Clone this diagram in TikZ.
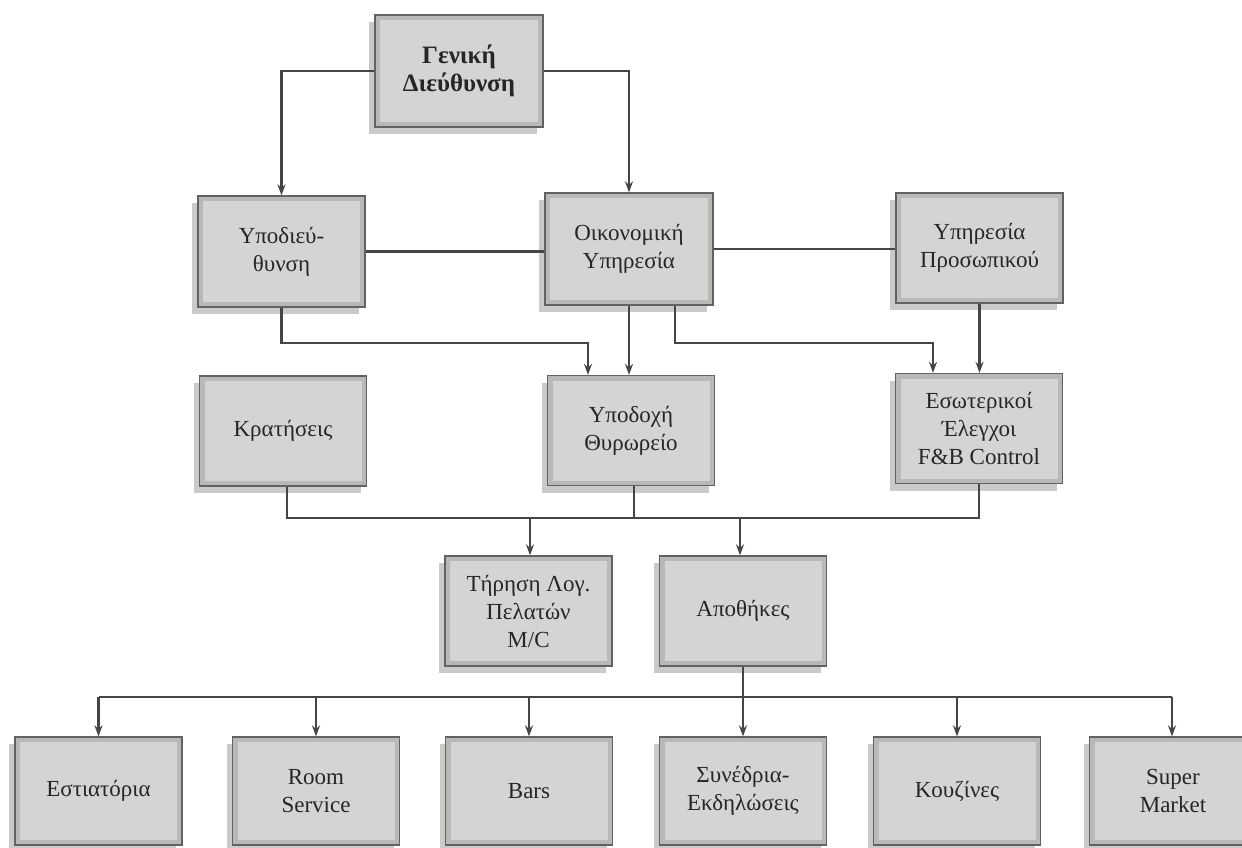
\documentclass[tikz,border=0pt]{standalone}
\usepackage{fontspec}
\setmainfont{Liberation Serif}
\usetikzlibrary{arrows.meta,shadows,calc}
\definecolor{boxfill}{HTML}{D4D4D2}
\definecolor{boxband}{HTML}{B8B8B6}
\definecolor{boxline}{HTML}{626262}
\definecolor{shadowc}{HTML}{CACAC8}
\definecolor{linec}{HTML}{454545}
\tikzset{
  orgbox/.style={draw=boxline, line width=1.3pt, fill=boxband,
    minimum width=167pt, minimum height=111pt, inner sep=0pt, align=center,
    font=\fontsize{23}{28}\selectfont, text=black!85,
    drop shadow={shadow xshift=-6pt, shadow yshift=-7pt, fill=shadowc, opacity=1},
    path picture={\fill[boxfill] ($(path picture bounding box.south west)+(5pt,5pt)$) rectangle ($(path picture bounding box.north east)-(5pt,5pt)$);}},
  conn/.style={draw=linec, line width=2.4pt},
  arr/.style={conn, -{Stealth[length=11pt,width=8pt]}}
}
\begin{document}
\begin{tikzpicture}[x=1pt,y=-1pt]
\useasboundingbox (0,0) rectangle (1242,847);
\clip (0,0) rectangle (1242,847);
\fill[white] (0,0) rectangle (1242,847);
% boxes
\node[orgbox, font=\bfseries\fontsize{25}{28}\selectfont, minimum height=112pt, minimum width=168pt] (gen) at (459,71) {Γενική\\Διεύθυνση};
\node[orgbox] (ypo) at (281.5,251.5) {Υποδιεύ-\\θυνση};
\node[orgbox, minimum width=168pt, minimum height=112pt] (oik) at (629,249) {Οικονομική\\Υπηρεσία};
\node[orgbox, minimum height=110pt] (yp) at (979.5,248) {Υπηρεσία\\Προσωπικού};
\node[orgbox, minimum height=110pt] (kra) at (283,431) {Κρατήσεις};
\node[orgbox, minimum height=110pt] (ypd) at (631,430.5) {Υποδοχή\\Θυρωρείο};
\node[orgbox, minimum height=110pt] (eso) at (979,428.5) {Εσωτερικοί\\Έλεγχοι\\F\&B Control};
\node[orgbox, minimum height=110pt] (tir) at (528.5,611) {Τήρηση Λογ.\\Πελατών\\M/C};
\node[orgbox, minimum height=110pt] (apo) at (743,611) {Αποθήκες};
\node[orgbox, minimum height=108pt] (e1) at (98.5,791) {Εστιατόρια};
\node[orgbox, minimum height=108pt] (e2) at (316,791) {Room\\Service};
\node[orgbox, minimum height=108pt] (e3) at (529,791) {Bars};
\node[orgbox, minimum height=108pt] (e4) at (743,791) {Συνέδρια-\\Εκδηλώσεις};
\node[orgbox, minimum height=108pt] (e5) at (957,791) {Κουζίνες};
\node[orgbox, minimum height=108pt] (e6) at (1173,791) {Super\\Market};
% bus coordinates
\coordinate (busA) at (0,343);
\coordinate (busB) at (0,518);
\coordinate (busC) at (0,697);
% top connectors
\draw[arr] (gen.west) -| (ypo.north);
\draw[arr] (gen.east) -| (oik.north);
\draw[conn] (ypo.east) -- (ypo.east -| oik.west);
\draw[conn] (oik.east) -- (oik.east -| yp.west);
\draw[arr] (ypo.south) -- (ypo.south |- busA) -| ([xshift=-43pt]ypd.north);
\draw[arr] (oik.south) -- (oik.south |- ypd.north);
\draw[arr] ([xshift=46pt]oik.south) -- ([xshift=46pt]oik.south |- busA) -| ([xshift=-46pt]eso.north);
\draw[arr] (yp.south) -- (yp.south |- eso.north);
% middle bus
\draw[conn] ([xshift=4pt]kra.south) -- ([xshift=4pt]kra.south |- busB) -| (eso.south);
\draw[conn] ([xshift=3pt]ypd.south) -- ([xshift=3pt]ypd.south |- busB);
\draw[arr] ([xshift=1.5pt]tir.north |- busB) -- ([xshift=1.5pt]tir.north);
\draw[arr] ([xshift=-3pt]apo.north |- busB) -- ([xshift=-3pt]apo.north);
% bottom bus
\draw[conn] (e1.north |- busC) -- ([xshift=-1pt]e6.north |- busC);
\draw[arr] (apo.south) -- (e4.north);
\foreach \n in {e1,e2,e3,e5} \draw[arr] (\n.north |- busC) -- (\n.north);
\draw[arr] ([xshift=-1pt]e6.north |- busC) -- ([xshift=-1pt]e6.north);
\end{tikzpicture}
\end{document}
